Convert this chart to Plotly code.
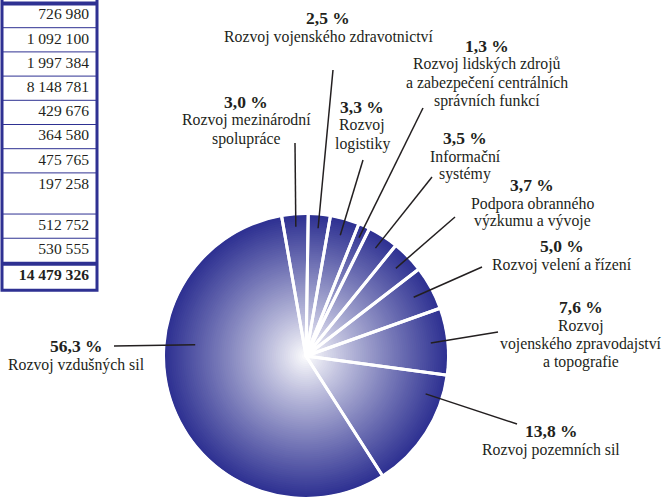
import numpy as np
import plotly.graph_objects as go

W, H = 664, 499

# ── data ────────────────────────────────────────────────
CATEGORIES = [
    "Rozvoj mezinárodní<br>spolupráce",
    "Rozvoj vojenského zdravotnictví",
    "Rozvoj<br>logistiky",
    "Rozvoj lidských zdrojů<br>a zabezpečení centrálních<br>správních funkcí",
    "Informační<br>systémy",
    "Podpora obranného<br>výzkumu a vývoje",
    "Rozvoj velení a řízení",
    "Rozvoj<br>vojenského zpravodajství<br>a topografie",
    "Rozvoj pozemních sil",
    "Rozvoj vzdušných sil",
]
SHARES = [3.0, 2.5, 3.3, 1.3, 3.5, 3.7, 5.0, 7.6, 13.8, 56.3]

TABLE_VALUES = ["726 980", "1 092 100", "1 997 384", "8 148 781", "429 676",
                "364 580", "475 765", "197 258", "512 752", "530 555"]
TABLE_TOTAL = "14 479 326"

# ── layout (pixels) ─────────────────────────────────────
NAVY = "#2e3192"
INK = "#231f20"
FONT = "Liberation Serif, Times New Roman, serif"
PIE_CX, PIE_CY, PIE_R = 306, 356, 141
START_ANGLE = -9.9
LABEL_POS = [(246, 102), (328, 18), (362, 107), (487, 46), (465, 138),
             (532, 185), (562, 246), (581, 307), (551, 431), (76, 346)]
LEADER_END = [(295, 143), (333, 70), (363, 160), (423, 108), (432, 177),
              (455, 217), (482, 267), (498, 332), (517, 424), (114, 346)]
LEADER_SHIFT = [0, 0, 0, 0, 0, 0, 0, 0, -15, 27]
LEADER_R = [0.92, 0.91, 0.89, 0.92, 0.91, 0.89, 0.87, 0.89, 0.89, 0.79]
HEAD_GAP, LINE_GAP = 18.5, 18

TBL_X0, TBL_X1 = 2, 97        # table column edges (px)
TBL_TOP, ROW_H = 3.5, 24.2    # first rule (px), row unit (px)
ROW_SPAN = [1, 1, 1, 1, 1, 1, 1, 1.7, 1, 1.05, 1.1]


def px(x):
    return x / W


def py(y):
    return 1 - y / H


def pie_domain(r):
    return dict(x=[px(PIE_CX - r), px(PIE_CX + r)],
                y=[max(0, py(PIE_CY + r)), py(PIE_CY - r)])


fig = go.Figure()

# radial gradient built from concentric pies (outer -> inner)
N = 70
white = np.array([255, 255, 255])
navy = np.array([46, 49, 146])
for k in range(N):
    frac = 1 - k / N
    t = frac - 0.5 / N
    f = t ** 0.9
    c = white * (1 - f) + navy * f
    fig.add_trace(go.Pie(
        values=SHARES, sort=False, direction="clockwise", rotation=START_ANGLE,
        marker=dict(colors=["rgb(%d,%d,%d)" % tuple(c)] * len(SHARES), line=dict(width=0)),
        textinfo="none", hoverinfo="skip", showlegend=False,
        domain=pie_domain(PIE_R * frac),
    ))

# white slice separators on top
fig.add_trace(go.Pie(
    labels=[c.replace("<br>", " ") for c in CATEGORIES],
    values=SHARES, sort=False, direction="clockwise", rotation=START_ANGLE,
    marker=dict(colors=["rgba(0,0,0,0)"] * len(SHARES), line=dict(color="white", width=3)),
    textinfo="none", showlegend=False,
    domain=pie_domain(PIE_R + 2),
))

# ── table column (cropped from a larger table) ──────────
bounds = np.concatenate([[0], np.cumsum(ROW_SPAN)])
cell_text = TABLE_VALUES + ["<b>%s</b>" % TABLE_TOTAL]
fig.add_trace(go.Scatter(
    x=[TBL_X1 - TBL_X0 - 8] * len(cell_text), y=bounds[:-1] + 0.5,
    text=cell_text, mode="text", textposition="middle left",
    textfont=dict(family=FONT, size=15.6, color=INK),
    xaxis="x2", yaxis="y2", hoverinfo="skip", showlegend=False,
))

shapes = []
for b in bounds[1:-2]:
    shapes.append(dict(type="line", xref="paper", yref="y2", x0=px(TBL_X0), x1=px(TBL_X1),
                       y0=b, y1=b, line=dict(color=NAVY, width=1)))
for b in [bounds[0], bounds[-2]]:
    shapes.append(dict(type="line", xref="paper", yref="y2", x0=px(TBL_X0), x1=px(TBL_X1),
                       y0=b, y1=b, line=dict(color=NAVY, width=4)))
shapes.append(dict(type="rect", xref="paper", yref="y2", x0=px(TBL_X0), x1=px(TBL_X1),
                   y0=-1, y1=bounds[-1], line=dict(color=NAVY, width=3)))

# ── labels and leader lines ─────────────────────────────
mids = START_ANGLE + 3.6 * (np.cumsum(SHARES) - np.array(SHARES) / 2)
annotations = []
for i, name in enumerate(CATEGORIES):
    x, y = LABEL_POS[i]
    pct = ("%.1f %%" % SHARES[i]).replace(".", ",")
    annotations.append(dict(x=px(x), y=py(y), xref="paper", yref="paper",
                            xanchor="center", yanchor="middle", borderpad=0,
                            text="<b>%s</b>" % pct, showarrow=False,
                            font=dict(family=FONT, size=17.5, color=INK)))
    for j, line in enumerate(name.split("<br>")):
        annotations.append(dict(x=px(x), y=py(y + HEAD_GAP + LINE_GAP * j),
                                xref="paper", yref="paper",
                                xanchor="center", yanchor="middle", borderpad=0,
                                text=line, showarrow=False,
                                font=dict(family=FONT, size=15.8, color=INK)))
    a = np.radians(mids[i] + LEADER_SHIFT[i])
    r = PIE_R * LEADER_R[i]
    x0, y0 = PIE_CX + r * np.sin(a), PIE_CY - r * np.cos(a)
    x1, y1 = LEADER_END[i]
    shapes.append(dict(type="line", xref="paper", yref="paper",
                       x0=px(x0), y0=py(y0), x1=px(x1), y1=py(y1),
                       line=dict(color=INK, width=1.5)))

fig.update_layout(
    width=W, height=H,
    margin=dict(l=0, r=0, t=0, b=0),
    paper_bgcolor="white", plot_bgcolor="white",
    xaxis2=dict(domain=[px(TBL_X0), px(TBL_X1)], range=[0, TBL_X1 - TBL_X0],
                visible=False, fixedrange=True, anchor="y2"),
    yaxis2=dict(domain=[0, 1], range=[(H - TBL_TOP) / ROW_H, -TBL_TOP / ROW_H],
                visible=False, fixedrange=True, anchor="x2"),
    annotations=annotations, shapes=shapes,
    showlegend=False,
)
# the page body has a default 8px margin; drop it so the figure sits at the window origin
fig.write_html("out.html", config={"displayModeBar": False},
               post_script="document.body.style.margin = '0px';")
